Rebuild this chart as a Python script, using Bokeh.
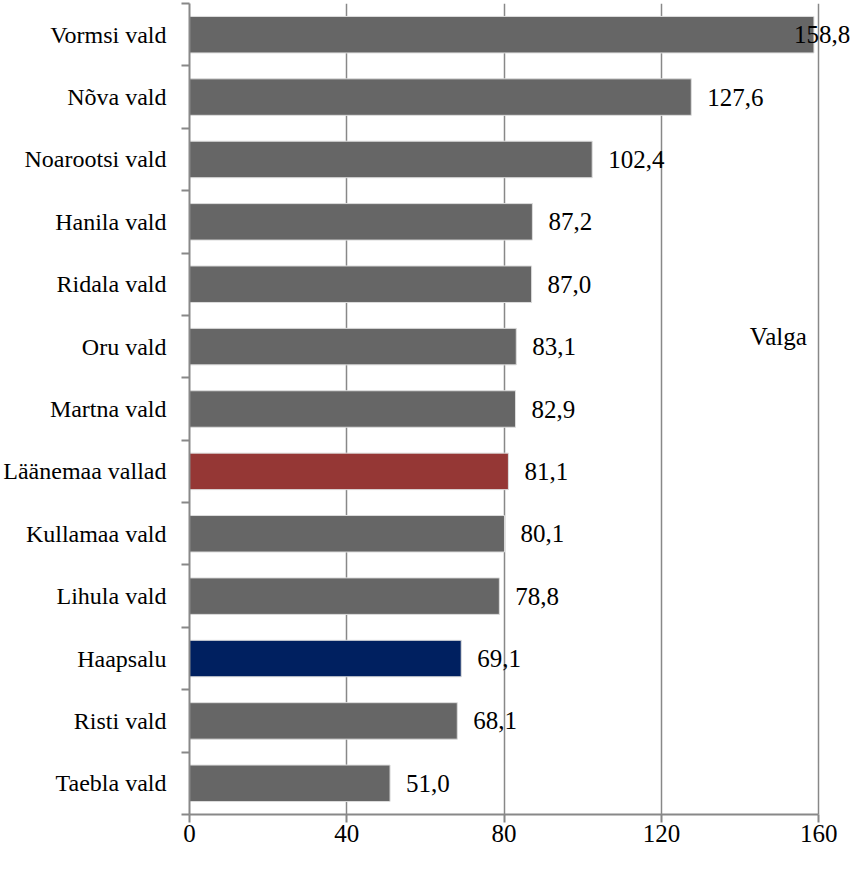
from bokeh.plotting import figure
from bokeh.models import Range1d, FixedTicker, ColumnDataSource, LabelSet, Label
from bokeh.embed import file_html
from bokeh.resources import INLINE

categories = ["Taebla vald", "Risti vald", "Haapsalu", "Lihula vald", "Kullamaa vald",
              "Läänemaa vallad", "Martna vald", "Oru vald", "Ridala vald", "Hanila vald",
              "Noarootsi vald", "Nõva vald", "Vormsi vald"]
values = [51.0, 68.1, 69.1, 78.8, 80.1, 81.1, 82.9, 83.1, 87.0, 87.2, 102.4, 127.6, 158.8]
x_ticks = [0, 40, 80, 120, 160]
stray_text = "Valga"

GRAY = "#666666"
RED = "#953735"
NAVY = "#002060"
AXIS = "#888888"
FONT = "'Liberation Serif'"
FS = "25px"
FS_Y = "24px"

colors = [RED if c == "Läänemaa vallad" else NAVY if c == "Haapsalu" else GRAY for c in categories]
pos = [i + 0.5 for i in range(len(categories))]
labels = [f"{v:.1f}".replace(".", ",") for v in values]
offsets = [16 if v < 150 else -20 for v in values]

src = ColumnDataSource(dict(y=pos, v=values, c=colors, lab=labels, off=offsets))

p = figure(width=852, height=852, output_backend="svg", toolbar_location=None,
           x_range=Range1d(0, 168.6), y_range=Range1d(0, len(categories)),
           min_border_left=186, min_border_top=3, min_border_right=0, min_border_bottom=38)
p.outline_line_color = None
p.background_fill_color = "white"

p.hbar(y="y", left=0, right="v", height=0.585, fill_color="c", line_color="#dddddd",
       line_width=1, source=src)

p.add_layout(LabelSet(x="v", y="y", text="lab", x_offset="off", source=src,
                      text_font=FONT, text_font_size=FS, text_baseline="middle",
                      text_align="left", text_color="black"))

p.add_layout(Label(x=142.5, y=7.66, text=stray_text, text_font=FONT, text_font_size=FS,
                   text_baseline="middle", text_align="left", text_color="black"))

# x axis
xa = p.xaxis[0]
xa.ticker = FixedTicker(ticks=x_ticks)
xa.bounds = (0, 160)
xa.axis_line_color = AXIS
xa.axis_line_width = 2
xa.major_tick_line_color = AXIS
xa.major_tick_line_width = 2
xa.major_tick_in = 0
xa.major_tick_out = 8
xa.minor_tick_line_color = None
xa.major_label_standoff = 2
xa.major_label_text_font = FONT
xa.major_label_text_font_size = FS
xa.major_label_text_color = "black"

# y axis
ya = p.yaxis[0]
ya.ticker = FixedTicker(ticks=pos, minor_ticks=list(range(len(categories) + 1)))
ya.major_label_overrides = {pv: c for pv, c in zip(pos, categories)}
ya.axis_line_color = AXIS
ya.axis_line_width = 2
ya.major_tick_line_color = None
ya.major_tick_out = 0
ya.major_tick_in = 0
ya.minor_tick_line_color = AXIS
ya.minor_tick_line_width = 2
ya.minor_tick_out = 8
ya.minor_tick_in = 0
ya.major_label_standoff = 15
ya.major_label_text_font = FONT
ya.major_label_text_font_size = FS_Y
ya.major_label_text_color = "black"

p.xgrid.ticker = FixedTicker(ticks=x_ticks)
p.xgrid.bounds = (0, 160)
p.xgrid.grid_line_color = AXIS
p.xgrid.grid_line_width = 1.5
p.ygrid.grid_line_color = None

open("out.html", "w").write(file_html(p, INLINE))
